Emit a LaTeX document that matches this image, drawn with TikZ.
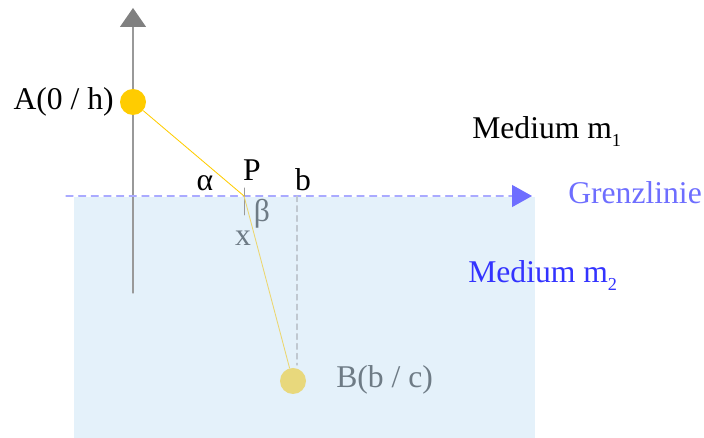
\documentclass[tikz,border=0pt]{standalone}
\usepackage{fontspec}
\setmainfont{Liberation Serif}
\usetikzlibrary{arrows.meta,positioning,calc}
\definecolor{axisGray}{RGB}{153, 153, 153}
\definecolor{tipGray}{RGB}{128, 128, 128}
\definecolor{pointA}{RGB}{255, 204, 0}
\definecolor{pointB}{RGB}{232, 216, 124}
\definecolor{rayB}{RGB}{236, 214, 110}
\definecolor{waterBlue}{RGB}{228, 241, 250}
\definecolor{lineViolet}{RGB}{170, 170, 255}
\definecolor{tipViolet}{RGB}{110, 110, 255}
\definecolor{labelGray}{RGB}{110, 123, 133}
\definecolor{mediumBlue}{RGB}{51, 51, 255}
\definecolor{dropGray}{RGB}{192, 200, 208}
\newcommand{\lowsub}[1]{\raisebox{-0.55ex}{\fontsize{13}{13}\selectfont #1}}

\begin{document}
\begin{tikzpicture}[line cap=round, line join=round,
    lbl/.style={inner sep=0pt, font=\fontsize{22.5}{26}\selectfont},
    dot/.style={circle, inner sep=0pt, minimum size=0.65cm}]
        \useasboundingbox (0,0) rectangle (17.6,10.95);
        % medium m2
        \fill[waterBlue] (1.85,0) rectangle (13.375,6.025);
        % vertical axis
        \coordinate (axisBot) at (3.325,3.625);
        \coordinate (axisTop) at (3.325,10.75);
        \draw[axisGray, line width=0.8pt, -{Triangle[length=0.475cm, width=0.65cm, color=tipGray]}] (axisBot) -- (axisTop);
        % boundary line
        \coordinate (lineL) at (1.65,6.05);
        \coordinate (lineR) at (13.3,6.05);
        \draw[lineViolet, line width=0.9pt, dash pattern=on 5pt off 4pt, -{Triangle[length=0.5cm, width=0.55cm, color=tipViolet]}] (lineL) -- (lineR);
        % points
        \node[dot, fill=pointA] (A) at (3.325,8.4) {};
        \node[dot, fill=pointB] (B) at (7.325,1.425) {};
        \coordinate (P) at (6.1,6.05);
        \coordinate (bTop) at (7.425,6.05);
        \coordinate (bBot) at (7.425,1.825);
        \coordinate (tickT) at (6.1,6.25);
        \coordinate (tickB) at (6.1,5.575);
        \draw[dropGray, line width=0.9pt, dash pattern=on 4pt off 3pt] (bTop) -- (bBot);
        \draw[axisGray, line width=0.7pt] (tickT) -- (tickB);
        % rays
        \draw[pointA, line width=0.6pt] (A) -- (P);
        \draw[rayB, line width=0.6pt] (P) -- (B);
        % labels
        \node[lbl, anchor=east] (labA) at (2.85,8.4) {A(0 / h)};
        \node[lbl] (alpha) at (5.125,6.375) {α};
        \node[lbl] (labP) at (6.3,6.7) {P};
        \node[lbl] (labb) at (7.575,6.45) {b};
        \node[lbl, text=labelGray] (beta) at (6.55,5.6) {β};
        \node[lbl, text=labelGray] (labx) at (6.075,5.0) {x};
        \node[lbl, anchor=west] (m1) at (11.8,7.65) {Medium m\lowsub{1}};
        \node[lbl, anchor=west, text=tipViolet] (grenz) at (14.2,6.125) {Grenzlinie};
        \node[lbl, anchor=west, text=mediumBlue] (m2) at (11.7,4.05) {Medium m\lowsub{2}};
        \node[lbl, anchor=west, text=labelGray] (labB) at (8.4,1.45) {B(b / c)};
    \end{tikzpicture}
\end{document}
